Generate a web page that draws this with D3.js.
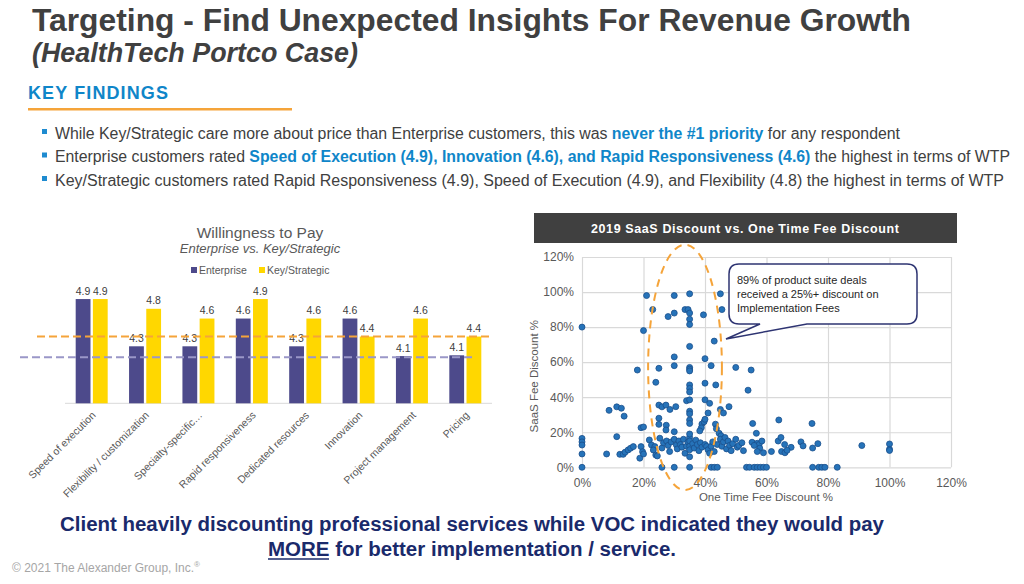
<!DOCTYPE html>
<html>
<head>
<meta charset="utf-8">
<script src="https://cdn.jsdelivr.net/npm/d3@7"></script>
<style>
  html, body { margin: 0; padding: 0; background: #fff; }
  svg { display: block; font-family: "Liberation Sans", Arial, sans-serif; }
</style>
</head>
<body>
<svg id="chart" width="1024" height="584"></svg>
<script>
// ---------------- DATA ----------------
const categories = ["Speed of execution", "Flexibility / customization", "Specialty-specific…",
  "Rapid responsiveness", "Dedicated resources", "Innovation", "Project management", "Pricing"];
const seriesNames = ["Enterprise", "Key/Strategic"];
const enterpriseValues = [4.89, 4.26, 4.26, 4.63, 4.26, 4.63, 4.13, 4.14];
const keyStrategicValues = [4.89, 4.76, 4.63, 4.89, 4.63, 4.39, 4.63, 4.39];

const scatterTicks = [0, 20, 40, 60, 80, 100, 120];
// [One Time Fee Discount %, SaaS Fee Discount %]
const scatterPoints = [
  [0,80],[20,78],[21,98],[23,90],[28,86],[30,88],[30,98],[33.5,90],[34.5,90],[35,88],[35,99],[35,84.5],[35,81.5],
  [39.5,87],[45,99],[45.5,90],[43,72],[35,69],[30,63],[30,58],[18,55.5],[25,56.5],[35,57],[35,56],[35,55],
  [40,62],[42,58],[50,57],[55,55.5],[24,48.5],[35,47],[35,45],[35,43],[40,48],[43.5,47],[54,44],
  [8.8,32.5],[11.3,34.5],[12.8,33.7],[13.7,29.2],[25,35.5],[26,34.5],[27.3,35.5],[28.6,33],[30.5,34.6],
  [34,38],[35,38.5],[35,32],[35,30.5],[40,38.5],[41.5,36.5],[41,31],[45,33],[46,31],[47.8,34.6],
  [25,28],[25,24.5],[27.4,24],[27.3,21.3],[19.2,22.6],[20,23],[30,20.3],[35,27],[35,25],[39,24.7],
  [39.7,26],[40,27.4],[38.8,22.5],[38.3,20.8],[43.4,24.6],[43.7,22],[44.6,19.4],[45.2,18],[55.5,25],
  [56.7,19.4],[64,27],[74.8,25],[11.3,17.5],
  [0,16.5],[0,14.5],[0,12.7],[0,7.6],[8,7.6],[12.3,7.4],[13.4,7.4],[14,8.6],[15,9.9],[15.8,10.9],
  [16.7,11.8],[19.2,11.8],[19.7,8.9],[18.8,5.2],[20,7.6],[21.9,15.6],[22.6,12.7],[23.7,11.8],[23.2,9.9],
  [24,7],[24.5,6.5],[25.3,16.6],[26,11],[26.5,14],[27.5,15],[28,12.5],[28.5,9],[29,14.5],[30,16],
  [30.7,12.7],[31,10.5],[31.5,15],[32,13],[32.5,11.5],[33,16],[33.5,8],[34,12],[34.5,14.5],[35,17],
  [35,19],[35,15],[35,12],[35,10],[35,6],[36,13.5],[36.5,11],[37,15.5],[37.5,13],[38,9.5],[38.5,14],
  [39,11.5],[40,13],[40.5,12],[41,10],[41.5,8],[42,12],[42.5,14.5],[43,9],[44,13],[45,16],[45.5,12],
  [46,14.5],[46.5,17],[47,10.5],[47.5,15],[48,12.5],[48.5,9.5],[49,13.5],[50,16],[50.5,11.5],[51,12.5],
  [52,14],[52.5,9.5],[55.3,14.3],[57,13.7],[57.6,13],[57.8,10.9],[57,9],[59,8.3],[56,12.5],[58.5,15],
  [63.8,15],[64.7,17],[65.9,13],[68,11.4],[71.2,14.5],[71.9,12.2],[76.7,13.5],[75,11],[61.6,9],[64.9,9],
  [66,8.3],[66.7,9.7],[91,12.4],[100,13.3],[100,10.3],[100,9.6],
  [0,0],[26,0],[30,0],[35,0],[42,0],[43,0],[44,0],[53.5,0],[54.5,0],[56,0],[57,0],[58,0],[59,0],[60,0],
  [75,0],[77,0],[78,0],[79,0],[83,0]
];

const bullets = [
  [["While Key/Strategic care more about price than Enterprise customers, this was ", false], ["never the #1 priority", true], [" for any respondent", false]],
  [["Enterprise customers rated ", false], ["Speed of Execution (4.9), Innovation (4.6), and Rapid Responsiveness (4.6)", true], [" the highest in terms of WTP", false]],
  [["Key/Strategic customers rated Rapid Responsiveness (4.9), Speed of Execution (4.9), and Flexibility (4.8) the highest in terms of WTP", false]]
];
const bulletWidths = [845, 955, 949];

// ---------------- DRAW ----------------
const svg = d3.select("#chart");
svg.append("rect").attr("width", 1024).attr("height", 584).attr("fill", "#fff");

// Header
svg.append("text").attr("x", 32).attr("y", 31)
  .attr("font-size", 32).attr("font-weight", "bold").attr("fill", "#404040")
  .attr("textLength", 879).attr("lengthAdjust", "spacingAndGlyphs")
  .text("Targeting - Find Unexpected Insights For Revenue Growth");
svg.append("text").attr("x", 32).attr("y", 62)
  .attr("font-size", 27).attr("font-weight", "bold").attr("font-style", "italic").attr("fill", "#404040")
  .attr("textLength", 326).attr("lengthAdjust", "spacingAndGlyphs")
  .text("(HealthTech Portco Case)");
svg.append("text").attr("x", 28).attr("y", 99)
  .attr("font-size", 18).attr("font-weight", "bold").attr("fill", "#0f86c9")
  .attr("textLength", 140).attr("lengthAdjust", "spacing")
  .text("KEY FINDINGS");
svg.append("rect").attr("x", 28).attr("y", 108).attr("width", 264).attr("height", 2.5).attr("fill", "#f5a43a");

bullets.forEach((parts, i) => {
  const yy = 138.5 + i * 23.5;
  svg.append("rect").attr("x", 42).attr("y", yy - 9.5).attr("width", 5).attr("height", 5).attr("fill", "#1e8bd0");
  const t = svg.append("text").attr("x", 55).attr("y", yy)
    .attr("font-size", 16).attr("fill", "#404040")
    .attr("textLength", bulletWidths[i]).attr("lengthAdjust", "spacingAndGlyphs");
  parts.forEach(([s, b]) => {
    t.append("tspan").text(s)
      .attr("font-weight", b ? "bold" : "normal")
      .attr("fill", b ? "#0f86c9" : "#404040");
  });
});

// ---------------- BAR CHART ----------------
const barBase = 403.3;
const yBar = d3.scaleLinear().domain([3.5, 5]).range([barBase, barBase - 112.5]);
const xBand = d3.scaleBand().domain(categories).range([65, 492]);
const barColors = { "Enterprise": "#4d4a8b", "Key/Strategic": "#ffd700" };

svg.append("text").attr("x", 260).attr("y", 238).attr("text-anchor", "middle")
  .attr("font-size", 15.5).attr("fill", "#595959").text("Willingness to Pay");
svg.append("text").attr("x", 260).attr("y", 253).attr("text-anchor", "middle")
  .attr("font-size", 13).attr("font-style", "italic").attr("fill", "#595959").text("Enterprise vs. Key/Strategic");

// legend
const legendX = [191, 259];
seriesNames.forEach((n, i) => {
  svg.append("rect").attr("x", legendX[i]).attr("y", 267).attr("width", 6).attr("height", 6).attr("fill", barColors[n]);
  svg.append("text").attr("x", legendX[i] + 8).attr("y", 274).attr("font-size", 10.5).attr("fill", "#595959").text(n);
});

svg.append("line").attr("x1", 65).attr("x2", 492).attr("y1", barBase).attr("y2", barBase)
  .attr("stroke", "#d9d9d9").attr("stroke-width", 1);

const barRows = categories.map((c, i) => ({ c, vals: [
  { s: "Enterprise", v: enterpriseValues[i] }, { s: "Key/Strategic", v: keyStrategicValues[i] }] }));

const groups = svg.append("g").selectAll("g").data(barRows).join("g")
  .attr("transform", d => `translate(${xBand(d.c) + xBand.bandwidth() / 2 - 16},0)`);
const xSub = d3.scaleBand().domain(seriesNames).range([0, 32]).paddingInner(0.14);
groups.selectAll("rect").data(d => d.vals).join("rect")
  .attr("x", d => xSub(d.s)).attr("width", xSub.bandwidth())
  .attr("y", d => yBar(d.v)).attr("height", d => barBase - yBar(d.v))
  .attr("fill", d => barColors[d.s]);
groups.selectAll("text").data(d => d.vals).join("text")
  .attr("x", d => xSub(d.s) + xSub.bandwidth() / 2).attr("y", d => yBar(d.v) - 4.5)
  .attr("text-anchor", "middle").attr("font-size", 10.5).attr("fill", "#404040")
  .text(d => d3.format(".1f")(d.v));

// category labels
svg.append("g").selectAll("text").data(categories).join("text")
  .attr("transform", d => `translate(${xBand(d) + xBand.bandwidth() / 2 + 2},${barBase + 10}) rotate(-45)`)
  .attr("text-anchor", "end").attr("dy", "0.35em").attr("font-size", 10.5).attr("fill", "#595959")
  .text(d => d);

// pricing reference lines
const pIdx = categories.indexOf("Pricing");
svg.append("line").attr("x1", 37).attr("x2", 489)
  .attr("y1", yBar(keyStrategicValues[pIdx])).attr("y2", yBar(keyStrategicValues[pIdx]))
  .attr("stroke", "#f5a43a").attr("stroke-width", 2).attr("stroke-dasharray", "8,4");
svg.append("line").attr("x1", 20).attr("x2", 473)
  .attr("y1", yBar(enterpriseValues[pIdx]) + 2).attr("y2", yBar(enterpriseValues[pIdx]) + 2)
  .attr("stroke", "#9a97c8").attr("stroke-width", 2).attr("stroke-dasharray", "8,4");

// ---------------- SCATTER ----------------
svg.append("rect").attr("x", 534).attr("y", 213).attr("width", 423).attr("height", 30).attr("fill", "#404040");
svg.append("text").attr("x", 745).attr("y", 233).attr("text-anchor", "middle")
  .attr("font-size", 12.5).attr("font-weight", "bold").attr("fill", "#fff")
  .attr("textLength", 308).attr("lengthAdjust", "spacing")
  .text("2019 SaaS Discount vs. One Time Fee Discount");

const xS = d3.scaleLinear().domain([0, 120]).range([582, 951]);
const yS = d3.scaleLinear().domain([0, 120]).range([467.3, 257]);

const gx = svg.append("g").attr("transform", `translate(0,${yS(0)})`)
  .call(d3.axisBottom(xS).tickValues(scatterTicks).tickSize(-(yS(0) - yS(120))).tickPadding(11).tickFormat(d => d + "%"));
const gy = svg.append("g").attr("transform", `translate(${xS(0)},0)`)
  .call(d3.axisLeft(yS).tickValues(scatterTicks).tickSize(-(xS(120) - xS(0))).tickPadding(8).tickFormat(d => d + "%"));
[gx, gy].forEach(g => {
  g.select(".domain").remove();
  g.selectAll(".tick line").attr("stroke", "#d9d9d9").attr("stroke-width", 1.2);
  g.selectAll(".tick text").attr("fill", "#595959").attr("font-size", 12)
    .attr("font-family", "'Liberation Sans', Arial, sans-serif");
});

svg.append("text").attr("x", 766).attr("y", 501).attr("text-anchor", "middle")
  .attr("font-size", 11.5).attr("fill", "#595959").text("One Time Fee Discount %");
svg.append("text").attr("transform", `translate(538,${yS(52)}) rotate(-90)`).attr("text-anchor", "middle")
  .attr("font-size", 11.5).attr("fill", "#595959").text("SaaS Fee Discount %");

svg.append("g").selectAll("circle").data(scatterPoints).join("circle")
  .attr("cx", d => xS(d[0])).attr("cy", d => yS(d[1])).attr("r", 3)
  .attr("fill", "#2673b9").attr("stroke", "#1b4f8c").attr("stroke-width", 0.8);

// ellipse highlight
svg.append("ellipse")
  .attr("cx", xS(33.5)).attr("cy", yS(57)).attr("rx", xS(12) - xS(0)).attr("ry", yS(0) - yS(70))
  .attr("fill", "none").attr("stroke", "#f5a43a").attr("stroke-width", 2).attr("stroke-dasharray", "8,6");

// callout
svg.append("path")
  .attr("d", "M739,264 H907 Q917,264 917,274 V314 Q917,324 907,324 H807 L726,339 L760,324 H739 Q729,324 729,314 V274 Q729,264 739,264 Z")
  .attr("fill", "#fff").attr("stroke", "#2e3472").attr("stroke-width", 1.5);
["89% of product suite deals", "received a 25%+ discount on", "Implementation Fees"].forEach((s, i) => {
  svg.append("text").attr("x", 737).attr("y", 284 + i * 14).attr("font-size", 11).attr("fill", "#262626").text(s);
});

// ---------------- FOOTER ----------------
svg.append("text").attr("x", 472).attr("y", 531).attr("text-anchor", "middle")
  .attr("font-size", 20).attr("font-weight", "bold").attr("fill", "#1a2a6b")
  .attr("textLength", 824).attr("lengthAdjust", "spacingAndGlyphs")
  .text("Client heavily discounting professional services while VOC indicated they would pay");
const l2 = svg.append("text").attr("x", 472).attr("y", 556).attr("text-anchor", "middle")
  .attr("font-size", 20).attr("font-weight", "bold").attr("fill", "#1a2a6b")
  .attr("textLength", 408).attr("lengthAdjust", "spacingAndGlyphs");
l2.append("tspan").text("MORE");
l2.append("tspan").text(" for better implementation / service.");
svg.append("line").attr("x1", 268).attr("x2", 329).attr("y1", 559).attr("y2", 559)
  .attr("stroke", "#1a2a6b").attr("stroke-width", 1.5);

const cp = svg.append("text").attr("x", 12).attr("y", 572).attr("font-size", 12).attr("fill", "#a6a6a6");
cp.append("tspan").text("© 2021 The Alexander Group, Inc.");
cp.append("tspan").attr("font-size", 8).attr("dy", -5).text("®");
</script>
</body>
</html>
